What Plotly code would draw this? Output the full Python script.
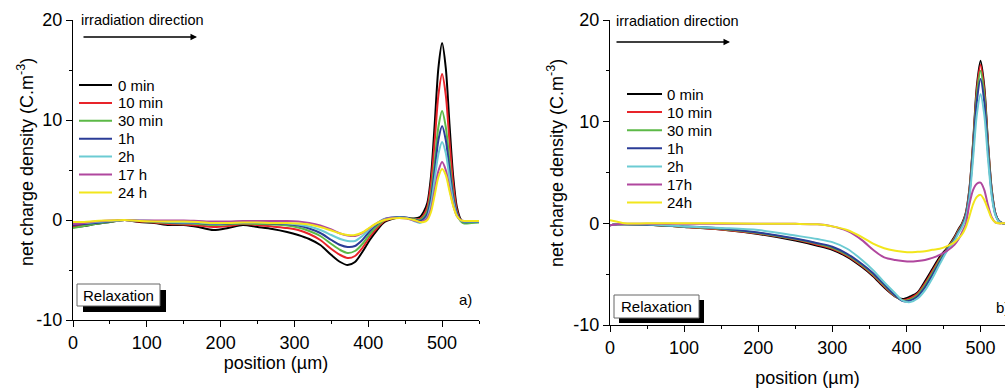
import plotly.graph_objects as go

# ---------------- data ----------------
series_names_a = ["0 min", "10 min", "30 min", "1h", "2h", "17 h", "24 h"]
series_names_b = ["0 min", "10 min", "30 min", "1h", "2h", "17h", "24h"]
colors = ["#000000", "#e8242a", "#5cb947", "#2b3c97", "#6ccbd3", "#b0479e", "#f2e61c"]

# panel a) positions (µm)
pos_a = [0, 15, 30, 50, 70, 90, 110, 130, 150, 170, 190, 210, 230, 250, 270, 290, 305, 320, 335, 350,
         362, 372, 382, 392, 402, 412, 422, 432, 442, 452, 462, 470, 475, 480, 485, 490, 495, 500,
         505, 510, 515, 520, 525, 530, 540, 550]

a_0min = [-0.7, -0.6, -0.4, -0.2, 0.0, -0.2, -0.3, -0.5, -0.5, -0.7, -1.0, -0.8, -0.5, -0.7, -0.9, -1.2,
          -1.5, -1.9, -2.5, -3.5, -4.2, -4.5, -4.2, -3.2, -2.0, -1.0, -0.2, 0.1, 0.25, 0.2, 0.15, 0.3,
          0.8, 1.7, 4.4, 9.6, 15.2, 17.7, 15.2, 9.6, 4.4, 1.3, 0.1, -0.3, -0.2, -0.2]
a_10min = [-0.6, -0.5, -0.35, -0.15, 0.0, -0.15, -0.25, -0.4, -0.45, -0.55, -0.7, -0.6, -0.4, -0.5, -0.65,
           -0.8, -1.0, -1.4, -2.0, -2.9, -3.5, -3.8, -3.6, -2.8, -1.7, -0.8, -0.1, 0.15, 0.25, 0.2, 0.1,
           0.1, 0.5, 1.3, 3.7, 7.9, 12.5, 14.6, 12.5, 7.9, 3.6, 1.0, 0.0, -0.3, -0.2, -0.2]
a_30min = [-0.8, -0.6, -0.4, -0.2, 0.0, -0.1, -0.2, -0.3, -0.35, -0.4, -0.5, -0.45, -0.35, -0.4, -0.45,
           -0.55, -0.75, -1.1, -1.6, -2.4, -3.0, -3.3, -3.1, -2.4, -1.4, -0.6, 0.0, 0.2, 0.25, 0.2, 0.1,
           0.0, 0.3, 0.9, 2.7, 5.9, 9.3, 10.9, 9.3, 5.9, 2.6, 0.7, -0.1, -0.35, -0.3, -0.25]
a_1h = [-0.5, -0.4, -0.3, -0.15, 0.0, -0.1, -0.15, -0.25, -0.3, -0.3, -0.4, -0.35, -0.3, -0.3, -0.35,
        -0.4, -0.55, -0.85, -1.3, -2.0, -2.5, -2.7, -2.6, -2.0, -1.1, -0.4, 0.1, 0.25, 0.3, 0.25, 0.05,
        -0.1, 0.1, 0.6, 2.2, 5.0, 8.0, 9.4, 8.0, 5.1, 2.3, 0.7, 0.0, -0.2, -0.2, -0.2]
a_2h = [-0.3, -0.3, -0.2, -0.1, 0.0, -0.05, -0.1, -0.2, -0.25, -0.25, -0.35, -0.3, -0.25, -0.25, -0.3,
        -0.35, -0.45, -0.65, -1.0, -1.5, -1.9, -2.1, -2.1, -1.6, -0.9, -0.3, 0.1, 0.2, 0.25, 0.2, -0.1,
        -0.3, -0.1, 0.3, 1.6, 4.1, 6.6, 7.8, 6.7, 4.2, 1.9, 0.5, -0.05, -0.15, -0.15, -0.15]
a_17h = [-0.4, -0.3, -0.15, -0.05, 0.0, -0.05, -0.05, -0.05, -0.05, -0.1, -0.15, -0.15, -0.1, -0.1, -0.1,
         -0.1, -0.15, -0.3, -0.55, -0.95, -1.35, -1.55, -1.6, -1.3, -0.8, -0.3, 0.05, 0.2, 0.2, 0.15,
         -0.05, -0.2, -0.1, 0.2, 1.1, 3.0, 4.9, 5.8, 5.0, 3.2, 1.5, 0.4, 0.0, -0.1, -0.1, -0.1]
a_24h = [-0.2, -0.2, -0.1, -0.05, 0.0, -0.1, -0.15, -0.15, -0.15, -0.2, -0.3, -0.3, -0.25, -0.25, -0.3,
         -0.3, -0.35, -0.45, -0.7, -1.05, -1.35, -1.5, -1.5, -1.25, -0.75, -0.3, 0.0, 0.15, 0.2, 0.15,
         0.0, -0.2, -0.2, 0.0, 0.8, 2.5, 4.3, 5.1, 4.5, 2.9, 1.4, 0.4, 0.0, -0.1, -0.1, -0.1]

# panel b) positions (µm)
pos_b = [0, 10, 20, 50, 100, 150, 200, 250, 280, 300, 320, 340, 355, 370, 385, 395, 405, 415, 425, 435,
         445, 455, 465, 470, 475, 480, 485, 490, 495, 500, 505, 510, 515, 520, 525, 530, 540]

b_0min = [-0.2, -0.1, -0.1, -0.15, -0.35, -0.6, -1.05, -1.7, -2.2, -2.6, -3.3, -4.3, -5.2, -6.3, -7.2,
          -7.45, -7.2, -6.8, -5.7, -4.5, -3.3, -2.4, -1.3, -0.6, 0.0, 1.0, 3.4, 8.0, 13.5, 16.0, 13.5,
          8.0, 3.4, 1.0, 0.2, 0.0, 0.0]
b_10min = [-0.2, -0.1, -0.1, -0.15, -0.35, -0.6, -1.0, -1.6, -2.1, -2.5, -3.2, -4.2, -5.1, -6.2, -7.2,
           -7.55, -7.35, -6.9, -5.9, -4.7, -3.5, -2.5, -1.4, -0.7, -0.1, 0.9, 3.3, 7.8, 13.1, 15.6, 13.1,
           7.8, 3.3, 1.0, 0.2, 0.0, 0.0]
b_30min = [-0.2, -0.1, -0.1, -0.15, -0.33, -0.55, -0.95, -1.55, -2.0, -2.4, -3.1, -4.1, -5.0, -6.1, -7.15,
           -7.6, -7.5, -7.05, -6.1, -4.9, -3.6, -2.55, -1.5, -0.8, -0.2, 0.8, 3.1, 7.5, 12.6, 15.0, 12.6,
           7.5, 3.2, 0.9, 0.2, 0.0, 0.0]
b_1h = [-0.2, -0.1, -0.1, -0.15, -0.3, -0.5, -0.9, -1.5, -1.95, -2.3, -3.0, -4.0, -4.9, -6.0, -7.1,
        -7.65, -7.6, -7.2, -6.3, -5.1, -3.8, -2.6, -1.6, -0.9, -0.3, 0.7, 2.9, 7.1, 12.0, 14.2, 12.0,
        7.1, 3.0, 0.9, 0.2, 0.0, 0.0]
b_2h = [-0.2, -0.1, -0.1, -0.1, -0.3, -0.45, -0.65, -1.2, -1.55, -1.85, -2.5, -3.6, -4.6, -5.8, -6.9,
        -7.6, -7.75, -7.4, -6.6, -5.4, -4.0, -2.7, -1.7, -1.0, -0.4, 0.5, 2.5, 6.4, 10.7, 12.7, 10.7,
        6.4, 2.7, 0.8, 0.15, 0.0, 0.0]
b_17h = [-0.2, -0.1, -0.05, -0.05, -0.05, -0.05, -0.05, -0.05, -0.1, -0.3, -0.75, -1.65, -2.6, -3.35,
         -3.6, -3.7, -3.75, -3.7, -3.6, -3.4, -3.1, -2.7, -2.1, -1.6, -0.9, -0.1, 1.9, 3.3, 3.9, 4.0,
         3.3, 1.8, 0.6, 0.1, 0.0, 0.0, 0.0]
b_24h = [0.3, 0.15, 0.0, 0.0, 0.0, 0.0, -0.05, -0.05, -0.1, -0.3, -0.65, -1.35, -2.0, -2.45, -2.7, -2.8,
         -2.85, -2.8, -2.75, -2.6, -2.5, -2.25, -1.85, -1.5, -1.1, -0.4, 0.7, 1.9, 2.6, 2.8, 2.3, 1.4,
         0.5, 0.1, 0.0, 0.0, 0.0]

series_a = [a_0min, a_10min, a_30min, a_1h, a_2h, a_17h, a_24h]
series_b = [b_0min, b_10min, b_30min, b_1h, b_2h, b_17h, b_24h]

x_ticks = [0, 100, 200, 300, 400, 500]
y_ticks = [-10, 0, 10, 20]
y_tick_text = ["-10", "0", "10", "20"]

# ---------------- layout helpers ----------------
W, H = 1005, 390
FONT = "Liberation Sans, Arial, sans-serif"


def px(x):
    return x / W


def py(y):
    return 1 - y / H


fig = go.Figure()

for name, col, ys in zip(series_names_a, colors, series_a):
    fig.add_trace(go.Scatter(x=pos_a, y=ys, mode="lines", name=name, xaxis="x", yaxis="y",
                             line=dict(color=col, width=2, shape="spline", smoothing=0.8),
                             showlegend=False))
for name, col, ys in zip(series_names_b, colors, series_b):
    fig.add_trace(go.Scatter(x=pos_b, y=ys, mode="lines", name=name, xaxis="x2", yaxis="y2",
                             line=dict(color=col, width=2, shape="spline", smoothing=0.8),
                             showlegend=False))

axis_common = dict(showline=True, linecolor="black", linewidth=1.3, ticks="outside", ticklen=6,
                   tickwidth=1.3, tickcolor="black", showgrid=False, zeroline=False, automargin=False,
                   tickfont=dict(family=FONT, size=18, color="black"))

fig.update_layout(
    width=W, height=H, margin=dict(l=0, r=0, t=0, b=0),
    paper_bgcolor="white", plot_bgcolor="white",
    font=dict(family=FONT, color="black"),
    xaxis=dict(domain=[px(73), px(479)], range=[0, 550], anchor="y", tickvals=x_ticks,
               minor=dict(ticks="outside", dtick=50, ticklen=3, tickcolor="black", tickwidth=1.2),
               title=dict(text="position (µm)", font=dict(family=FONT, size=18), standoff=2),
               **axis_common),
    yaxis=dict(domain=[py(320), py(20)], range=[-10, 20], anchor="x", tickvals=y_ticks,
               ticktext=y_tick_text,
               minor=dict(ticks="outside", dtick=5, ticklen=3, tickcolor="black", tickwidth=1.2),
               **axis_common),
    xaxis2=dict(domain=[px(610), 1.0], range=[0, 533], anchor="y2", tickvals=x_ticks,
                minor=dict(ticks="outside", dtick=50, ticklen=3, tickcolor="black", tickwidth=1.2),
                title=dict(text="position (µm)", font=dict(family=FONT, size=18), standoff=14),
                **axis_common),
    yaxis2=dict(domain=[py(325), py(20)], range=[-10, 20], anchor="x2", tickvals=y_ticks,
                ticktext=y_tick_text,
                minor=dict(ticks="outside", dtick=5, ticklen=3, tickcolor="black", tickwidth=1.2),
                **axis_common),
)

shapes = []
annotations = []

# y-axis titles
for tx, ty in [(25, 162), (555, 163)]:
    annotations.append(dict(xref="paper", yref="paper", x=px(tx), y=py(ty),
                            text="net charge density (C.m<sup>-3</sup>)", textangle=-90, showarrow=False,
                            xanchor="center", yanchor="middle",
                            font=dict(family=FONT, size=18, color="black")))

# manual legends
legend_specs = [
    dict(names=series_names_a, x0=79, x1=112, tx=116, y0=85, dy=17.9),
    dict(names=series_names_b, x0=627, x1=662, tx=665, y0=94, dy=18.1),
]
for spec in legend_specs:
    for i, (name, col) in enumerate(zip(spec["names"], colors)):
        yy = spec["y0"] + i * spec["dy"]
        shapes.append(dict(type="line", xref="paper", yref="paper", x0=px(spec["x0"]), x1=px(spec["x1"]),
                           y0=py(yy), y1=py(yy), line=dict(color=col, width=2)))
        annotations.append(dict(xref="paper", yref="paper", x=px(spec["tx"]), y=py(yy), text=name,
                                showarrow=False, xanchor="left", yanchor="middle",
                                font=dict(family=FONT, size=15, color="black")))

# irradiation direction text + arrows
for tx, ty, ax0, ax1, ay in [(79, 20, 82, 197, 37), (614, 21, 615, 730, 42)]:
    annotations.append(dict(xref="paper", yref="paper", x=px(tx), y=py(ty), text="irradiation direction",
                            showarrow=False, xanchor="left", yanchor="middle",
                            font=dict(family=FONT, size=14.5, color="black")))
    annotations.append(dict(xref="paper", yref="paper", x=px(ax1), y=py(ay), text="", showarrow=True,
                            ax=-(ax1 - ax0), ay=0, arrowhead=2, arrowsize=1, arrowwidth=1.3,
                            arrowcolor="black"))

# Relaxation boxes with shadow
for bx0, by0, bx1, by1, off in [(77, 284, 160, 306, 6), (614, 295, 699, 318, 5)]:
    shapes.append(dict(type="rect", xref="paper", yref="paper", x0=px(bx0 + off), x1=px(bx1 + off),
                       y0=py(by1 + off), y1=py(by0 + off), fillcolor="black", line=dict(width=0)))
    shapes.append(dict(type="rect", xref="paper", yref="paper", x0=px(bx0), x1=px(bx1),
                       y0=py(by1), y1=py(by0), fillcolor="white", line=dict(color="#666666", width=1)))
    annotations.append(dict(xref="paper", yref="paper", x=px((bx0 + bx1) / 2), y=py((by0 + by1) / 2),
                            text="Relaxation", showarrow=False, xanchor="center", yanchor="middle",
                            font=dict(family=FONT, size=15, color="black")))

# panel labels
annotations.append(dict(xref="paper", yref="paper", x=px(457), y=py(299), text="a)", showarrow=False,
                        xanchor="left", yanchor="middle", font=dict(family=FONT, size=15, color="black")))
annotations.append(dict(xref="paper", yref="paper", x=px(994), y=py(307), text="b)", showarrow=False,
                        xanchor="left", yanchor="middle", font=dict(family=FONT, size=15, color="black")))

fig.update_layout(shapes=shapes, annotations=annotations)

fig.write_html("out.html", config={"displayModeBar": False},
               post_script="document.body.style.margin='0px';document.body.style.overflow='hidden';")
